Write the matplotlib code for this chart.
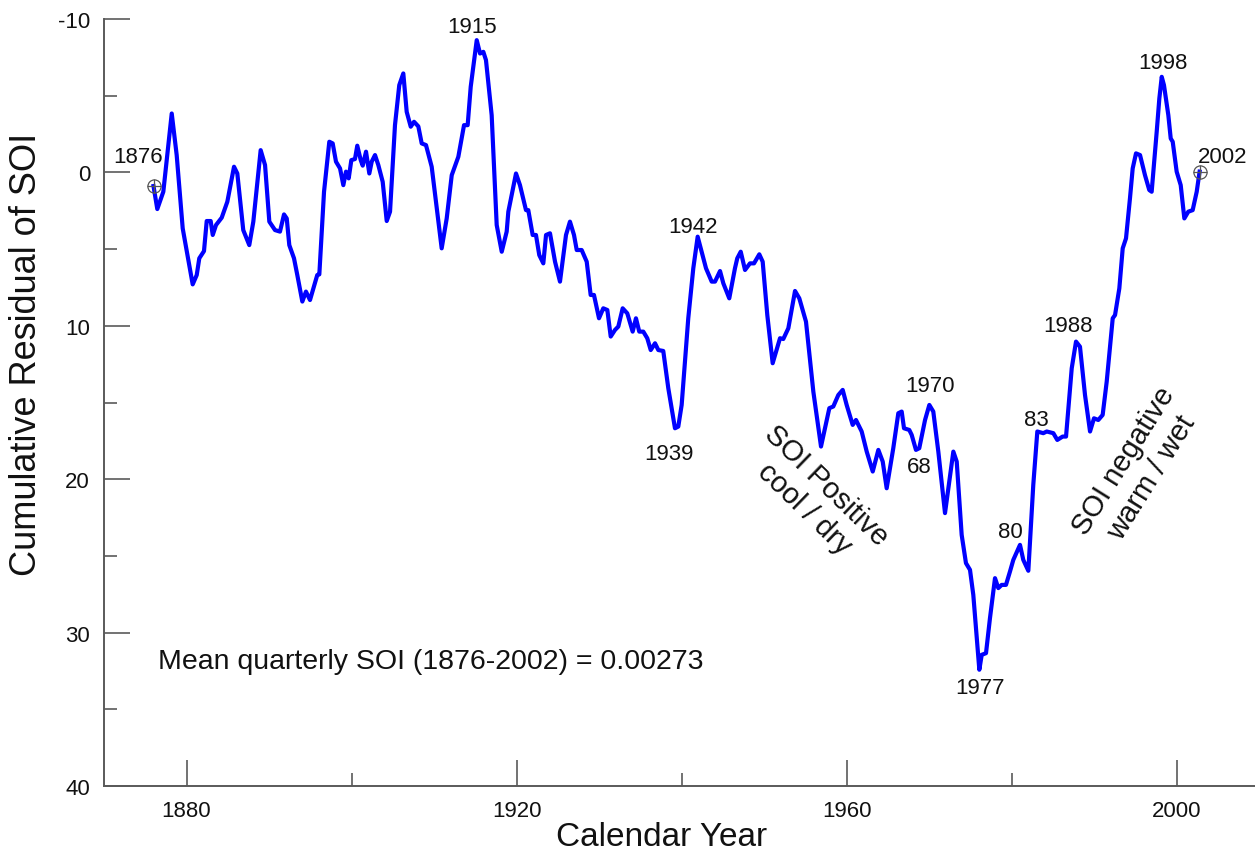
import matplotlib
matplotlib.use("Agg")
import matplotlib.pyplot as plt
from matplotlib.ticker import MultipleLocator

plt.rcParams['font.family'] = ['Liberation Sans', 'DejaVu Sans']

years = [
    1876.00, 1876.46, 1877.19, 1878.21, 1878.81, 1879.54, 1880.75, 1881.24, 1881.55, 1882.12,
    1882.45, 1882.93, 1883.18, 1883.58, 1884.27, 1884.95, 1885.76, 1886.16, 1886.88, 1887.61,
    1888.10, 1888.99, 1889.52, 1890.04, 1890.73, 1891.33, 1891.82, 1892.15, 1892.46, 1893.03,
    1893.43, 1894.04, 1894.48, 1894.97, 1895.85, 1896.10, 1896.67, 1897.31, 1897.72, 1898.12,
    1898.61, 1899.01, 1899.33, 1899.66, 1899.98, 1900.42, 1900.70, 1901.12, 1901.36, 1901.76,
    1902.16, 1902.45, 1902.85, 1903.25, 1903.78, 1904.27, 1904.67, 1905.27, 1905.79, 1906.28,
    1906.69, 1907.18, 1907.58, 1908.10, 1908.51, 1909.03, 1909.72, 1910.24, 1910.93, 1911.54,
    1912.15, 1912.95, 1913.64, 1914.08, 1914.45, 1915.18, 1915.58, 1915.98, 1916.30, 1916.99,
    1917.60, 1918.21, 1918.81, 1919.01, 1919.94, 1920.42, 1921.15, 1921.43, 1921.96, 1922.36,
    1922.76, 1923.25, 1923.58, 1924.06, 1924.67, 1925.27, 1926.00, 1926.48, 1926.97, 1927.30,
    1927.90, 1928.51, 1928.99, 1929.39, 1930.00, 1930.52, 1931.01, 1931.42, 1931.94, 1932.34,
    1932.87, 1933.43, 1934.08, 1934.48, 1934.88, 1935.37, 1935.85, 1936.27, 1936.79, 1937.19,
    1937.79, 1938.40, 1939.21, 1939.61, 1940.02, 1940.82, 1941.43, 1941.96, 1942.97, 1943.66,
    1944.06, 1944.67, 1945.07, 1945.79, 1946.48, 1946.76, 1947.18, 1947.70, 1948.30, 1948.79,
    1949.43, 1949.84, 1950.40, 1951.05, 1951.94, 1952.34, 1952.95, 1953.76, 1954.28, 1955.09,
    1955.98, 1956.91, 1957.92, 1958.40, 1959.01, 1959.54, 1960.02, 1960.75, 1961.15, 1961.84,
    1962.45, 1963.18, 1963.86, 1964.39, 1964.87, 1965.67, 1966.28, 1966.69, 1966.97, 1967.61,
    1967.90, 1968.42, 1968.82, 1969.52, 1970.04, 1970.52, 1971.13, 1971.94, 1972.95, 1973.36,
    1973.96, 1974.48, 1974.97, 1975.37, 1976.10, 1976.39, 1976.91, 1977.39, 1978.00, 1978.40,
    1978.81, 1979.33, 1979.82, 1980.22, 1981.03, 1981.43, 1982.04, 1982.64, 1983.13, 1983.85,
    1984.27, 1985.07, 1985.55, 1986.20, 1986.61, 1987.30, 1987.82, 1988.30, 1988.91, 1989.52,
    1990.00, 1990.52, 1991.05, 1991.54, 1992.27, 1992.55, 1993.07, 1993.48, 1993.88, 1994.36,
    1994.69, 1995.09, 1995.58, 1996.18, 1996.70, 1996.99, 1997.60, 1997.92, 1998.21, 1998.48,
    1999.01, 1999.30, 1999.54, 2000.02, 2000.51, 2000.95, 2001.43, 2001.96, 2002.45, 2002.80,
]

cum_residual = [
    0.89, 2.39, 1.26, -3.84, -1.13, 3.65, 7.30, 6.69, 5.60, 5.13,
    3.17, 3.17, 4.08, 3.43, 2.95, 1.91, -0.37, 0.07, 3.76, 4.74,
    3.21, -1.45, -0.48, 3.21, 3.76, 3.86, 2.74, 3.00, 4.74, 5.60,
    6.69, 8.42, 7.77, 8.32, 6.69, 6.65, 1.26, -2.00, -1.89, -0.70,
    -0.26, 0.83, -0.05, 0.39, -0.80, -0.87, -1.74, -0.80, -0.44, -1.35,
    0.07, -0.70, -1.13, -0.48, 0.61, 3.17, 2.56, -3.08, -5.69, -6.45,
    -3.95, -2.98, -3.30, -3.00, -1.89, -1.78, -0.37, 1.91, 4.95, 3.00,
    0.18, -1.02, -3.08, -3.08, -5.58, -8.62, -7.75, -7.86, -7.32, -3.73,
    3.43, 5.17, 3.86, 2.56, 0.07, 0.83, 2.46, 2.46, 4.08, 4.08,
    5.39, 5.93, 4.08, 3.97, 5.82, 7.12, 4.08, 3.21, 4.08, 5.06,
    5.06, 5.82, 7.99, 7.99, 9.51, 8.86, 8.97, 10.70, 10.27, 10.05,
    8.86, 9.19, 10.38, 9.51, 10.38, 10.38, 10.81, 11.58, 11.14, 11.58,
    11.64, 14.07, 16.68, 16.57, 15.16, 9.51, 6.25, 4.19, 6.25, 7.12,
    7.12, 6.43, 7.23, 8.21, 6.25, 5.60, 5.17, 6.36, 5.93, 5.93,
    5.34, 5.82, 9.30, 12.44, 10.81, 10.86, 10.16, 7.73, 8.21, 9.73,
    14.29, 17.87, 15.37, 15.26, 14.51, 14.18, 15.16, 16.46, 16.14, 16.89,
    18.20, 19.50, 18.09, 18.85, 20.59, 17.98, 15.70, 15.59, 16.68, 16.79,
    17.11, 18.09, 17.98, 16.14, 15.16, 15.59, 18.20, 22.21, 18.20, 18.85,
    23.63, 25.47, 25.91, 27.54, 32.42, 31.45, 31.34, 29.06, 26.45, 27.10,
    26.89, 26.89, 26.01, 25.26, 24.28, 25.26, 25.97, 20.37, 16.89, 17.00,
    16.89, 17.00, 17.44, 17.22, 17.22, 12.77, 11.03, 11.36, 14.51, 16.89,
    16.03, 16.14, 15.81, 13.64, 9.51, 9.30, 7.56, 4.95, 4.30, 1.69,
    -0.26, -1.24, -1.13, 0.18, 1.15, 1.26, -2.65, -4.82, -6.23, -5.69,
    -3.73, -2.21, -2.00, -0.05, 0.83, 3.00, 2.56, 2.46, 1.26, -0.05,
]

# Event labels (text, x, y) in data units
event_labels = ["1876", "1915", "1942", "1939", "1970", "68", "1977", "80", "83", "1988", "1998", "2002"]
event_x = [1874.1, 1914.6, 1941.4, 1938.5, 1970.1, 1968.8, 1976.2, 1979.9, 1983.05, 1986.9, 1998.4, 2005.6]
event_y = [-1.04, -9.5, 3.5, 18.3, 13.9, 19.2, 33.6, 23.4, 16.1, 9.95, -7.17, -1.02]

x_major = [1880, 1920, 1960, 2000]
y_major = [-10, 0, 10, 20, 30, 40]

fig = plt.figure(figsize=(12.55, 8.53), dpi=100)
ax = fig.add_axes([104 / 1255, (853 - 787) / 853, 1151 / 1255, 767 / 853])

spine_col = "#5a5a5a"
ax.plot(years, cum_residual, color="#0000ff", lw=3.0, solid_joinstyle="round", zorder=3)

# endpoint markers (circle with cross)
for i in (0, -1):
    ax.plot(years[i], cum_residual[i], marker="o", ms=9.5, mfc="none", mec="#555555", mew=0.9, zorder=4)
    ax.plot(years[i], cum_residual[i], marker="+", ms=9.5, mec="#555555", mew=0.9, zorder=4)

ax.set_xlim(1870, 1870 + 1151 / 8.25)
ax.set_ylim(40, -10)

for s in ("top", "right"):
    ax.spines[s].set_visible(False)
for s in ("left", "bottom"):
    ax.spines[s].set_color(spine_col)
    ax.spines[s].set_linewidth(1.4)

ax.set_xticks(x_major)
ax.set_xticklabels([str(v) for v in x_major])
ax.xaxis.set_minor_locator(MultipleLocator(20))
ax.set_yticks(y_major)
ax.set_yticklabels([str(v) for v in y_major])
ax.yaxis.set_minor_locator(MultipleLocator(5))

ax.tick_params(which="major", direction="in", length=19, width=1.2, color=spine_col,
               labelsize=16, labelcolor="#111111")
ax.tick_params(which="minor", direction="in", length=9.5, width=1.2, color=spine_col)
ax.tick_params(axis="x", which="major", pad=10)
ax.tick_params(axis="y", which="major", pad=10)

ax.set_xlabel("Calendar Year", fontsize=24, color="#111111", va="center")
ax.xaxis.set_label_coords((662 - 104) / 1151, (787 - 838) / 767)
ax.set_ylabel("Cumulative Residual of SOI", fontsize=26, color="#111111", va="center")
ax.yaxis.set_label_coords((27 - 104) / 1151, (787 - 354) / 767)

for t, x, y in zip(event_labels, event_x, event_y):
    ax.text(x, y, t, fontsize=16, ha="center", va="center", color="#111111")

ax.text(1876.55, 31.86, "Mean quarterly SOI (1876-2002) = 0.00273", fontsize=20.5,
        ha="left", va="center", color="#111111")

ax.text(1956.2, 21.1, "SOI Positive\ncool / dry", fontsize=21, rotation=-44,
        ha="center", va="center", multialignment="center", rotation_mode="anchor", color="#111111")
ax.text(1995.3, 19.3, "SOI negative\nwarm / wet", fontsize=21, rotation=58,
        ha="center", va="center", multialignment="center", rotation_mode="anchor", color="#111111")

fig.savefig("out.png", dpi=100)
